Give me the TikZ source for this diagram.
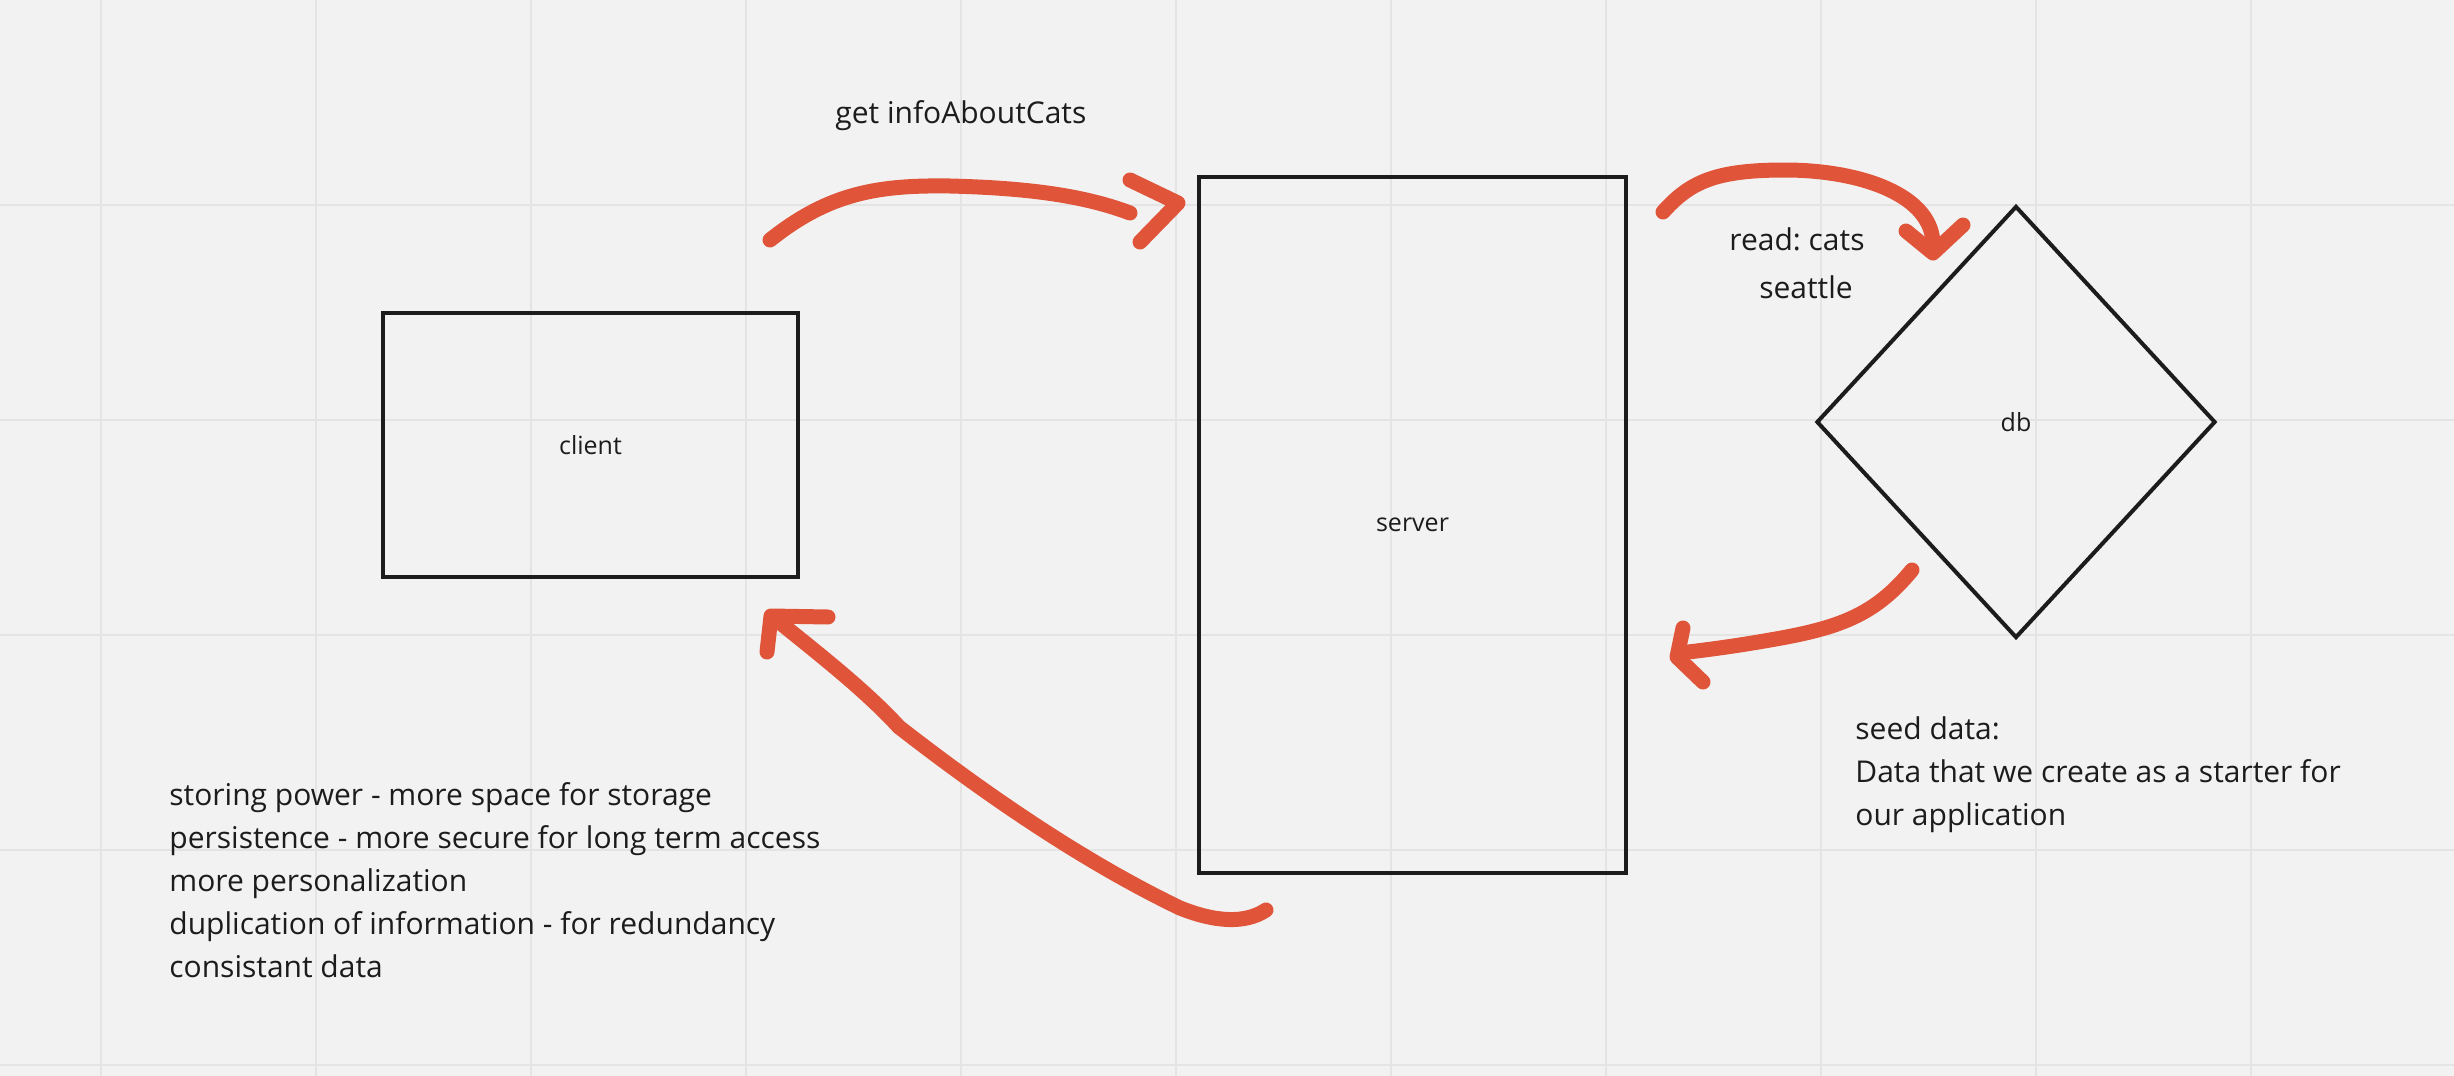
\documentclass[tikz,border=0pt]{standalone}
\usepackage{fontspec}
\setmainfont{Open Sans}
\frenchspacing
\usetikzlibrary{shapes.geometric}
\definecolor{boardbg}{HTML}{F2F2F2}
\definecolor{gridgray}{HTML}{E4E4E4}
\definecolor{penorange}{HTML}{E0553A}
\definecolor{inkblack}{HTML}{1C1C1C}
\tikzset{
  black box/.style={
    draw=inkblack,
    line width=2pt,
    inner sep=0pt,
    text=inkblack,
    font=\fontsize{12.5}{15}\selectfont,
  },
  note/.style={
    anchor=base west,
    inner sep=0pt,
    align=left,
    text=inkblack,
    font=\fontsize{15}{21.5}\selectfont,
  },
  pen/.style={
    draw=penorange,
    line width=7.5pt,
    line cap=round,
    line join=round,
  },
  board grid/.style={
    draw=gridgray,
    line width=1pt,
  }
}

\begin{document}
\begin{tikzpicture}[x=0.5pt, y=-0.5pt]
        \fill[boardbg] (0,0) rectangle (2454,1076);
        \useasboundingbox (0,0) rectangle (2454,1076);
        \foreach \gx in {101,316,...,2466}
          \draw[board grid] (\gx,0) -- (\gx,1076);
        \foreach \gy in {205,420,...,1065}
          \draw[board grid] (0,\gy) -- (2454,\gy);

        \node [black box, minimum width=207.5pt, minimum height=132pt] (client) at (590.5,445) {client};
        \node [black box, minimum width=213.5pt, minimum height=348pt] (server) at (1412.5,525) {server};
        \node [black box, diamond, minimum width=199.5pt, minimum height=216pt] (db) at (2016,422) {db};

        % multi-line notes sit on the baseline of their last line
        \node [note] (getlabel) at (835,123) {get infoAboutCats};
        \node [note, align=center, anchor=base] (readlabel) at (1797,298) {read: cats\\[2.5pt]\hspace*{0.6em}seattle};
        \node [note] (seednote) at (1855,825) {seed data:\\Data that we create as a starter for\\our application};
        \node [note] (whynote) at (169,977) {storing power - more space for storage\\persistence - more secure for long term access\\more personalization\\duplication of information - for redundancy\\consistant data};

        % client -> server
        \coordinate (getstart) at (770,240);
        \coordinate (getend) at (1130,213);
        \draw [pen] (getstart) .. controls (830,192) and (880,185) .. (950,186)
              .. controls (1030,188) and (1085,196) .. (getend);
        \draw [pen] (1130,180) -- (1178,203) -- (1140,242);

        % server -> db
        \coordinate (readstart) at (1663,212);
        \coordinate (readend) at (1933,247);
        \draw [pen] (readstart) .. controls (1690,182) and (1715,170) .. (1785,170)
              .. controls (1860,170) and (1935,195) .. (readend);
        \draw [pen] (1906,231) -- (1933,253) -- (1963,225);

        % db -> server
        \coordinate (seedstart) at (1912,570);
        \coordinate (seedend) at (1680,653);
        \draw [pen] (seedstart) .. controls (1875,615) and (1840,628) .. (1770,640)
              .. controls (1730,647) and (1705,650) .. (seedend);
        \draw [pen] (1683,628) -- (1677,657) -- (1703,682);

        % server -> client
        \coordinate (backstart) at (1266,910);
        \coordinate (backend) at (773,617);
        \draw [pen] (backstart) .. controls (1245,924) and (1215,922) .. (1180,908)
              .. controls (1080,860) and (980,790) .. (899,727)
              .. controls (865,690) and (820,655) .. (backend);
        \draw [pen] (767,652) -- (771,616) -- (828,617);
      \end{tikzpicture}
\end{document}
